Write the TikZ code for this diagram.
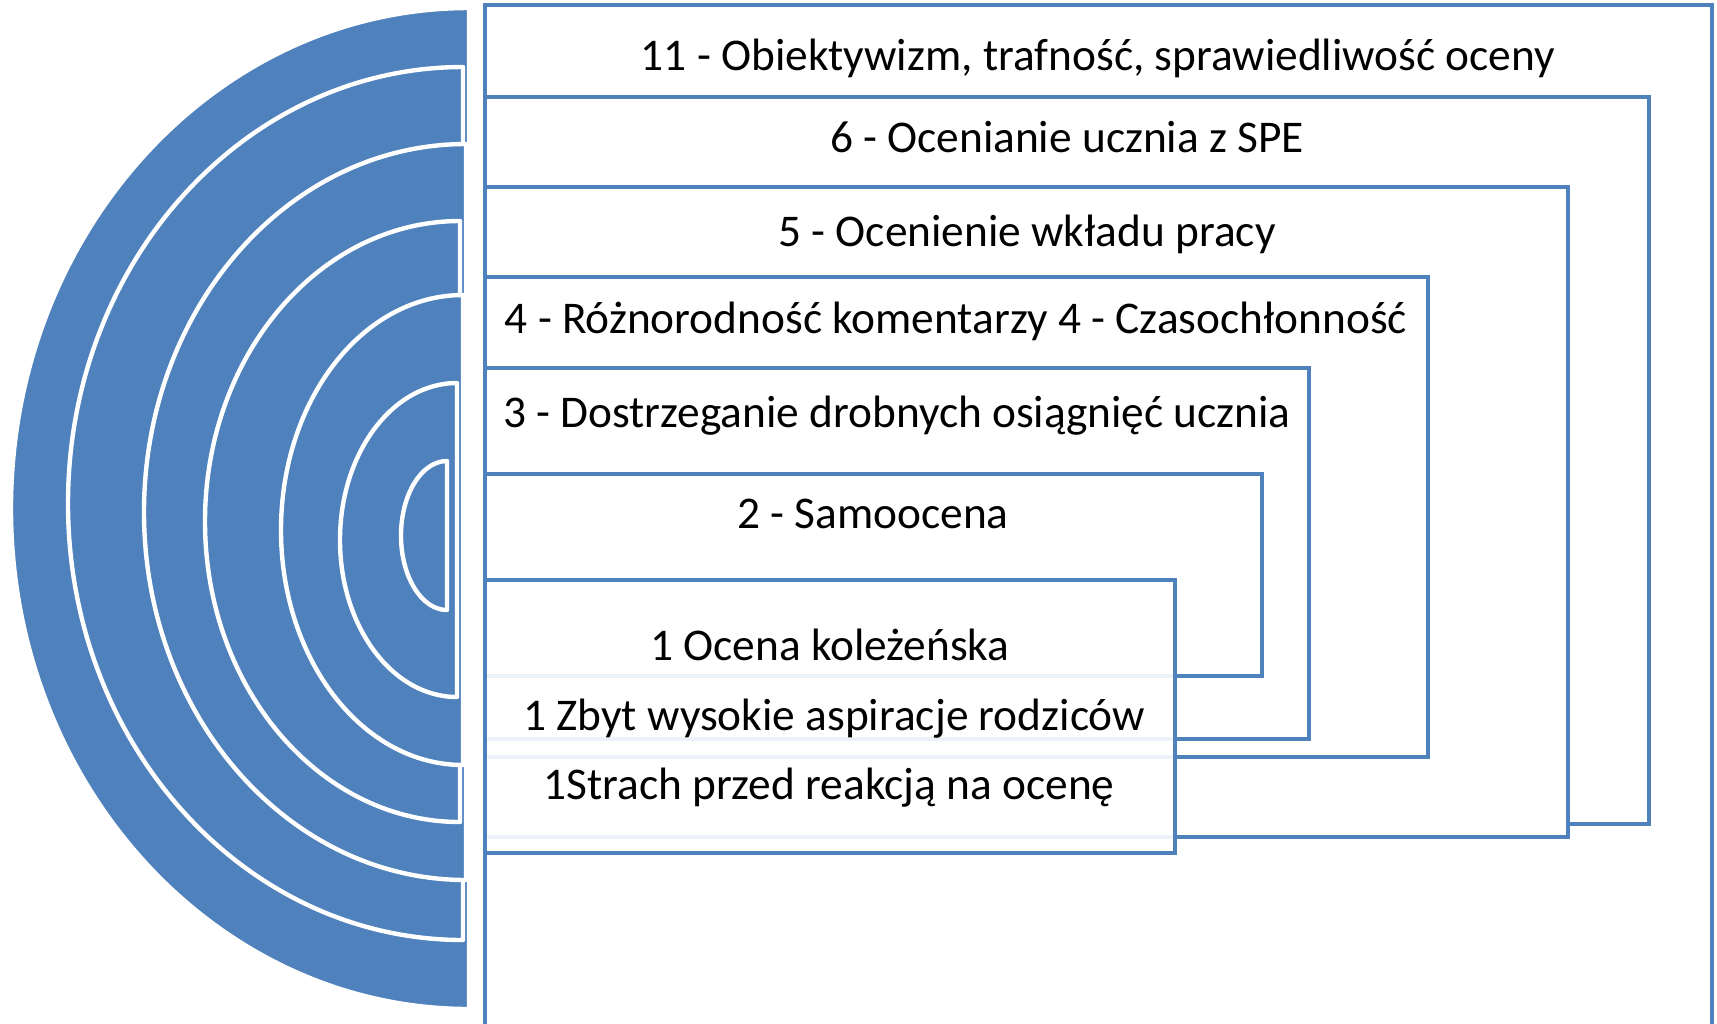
\documentclass[tikz,border=0pt]{standalone}
\usepackage{fontspec}
\setmainfont{Carlito}
\definecolor{accblue}{HTML}{4F81BD}
\tikzset{
  ring/.style={fill=accblue, draw=white, line width=1.25pt, line join=round},
  frame/.style={fill=white, draw=accblue, line width=1.4pt},
  lbl/.style={anchor=base, inner sep=0pt, font=\fontsize{12.9}{15}\selectfont, text=black}
}
\begin{document}
\begin{tikzpicture}[x=0.01cm,y=0.01cm]
\useasboundingbox (0,0) rectangle (1717,-1023);
\clip (0,0) rectangle (1717,-1023);
% nested half-ellipses (outer to inner)
\path[ring] (469,-8)   arc[start angle=90,end angle=270,x radius=458,y radius=500.5] -- cycle;
\path[ring] (463,-67)  arc[start angle=90,end angle=270,x radius=395,y radius=436.5] -- cycle;
\path[ring] (466,-144) arc[start angle=90,end angle=270,x radius=322,y radius=368] -- cycle;
\path[ring] (460,-221) arc[start angle=90,end angle=270,x radius=255,y radius=300.5] -- cycle;
\path[ring] (463,-295) arc[start angle=90,end angle=270,x radius=182,y radius=235] -- cycle;
\path[ring] (457,-383) arc[start angle=90,end angle=270,x radius=117,y radius=157] -- cycle;
\path[ring] (447,-461) arc[start angle=90,end angle=270,x radius=46,y radius=74.5] -- cycle;
% nested frames (outer to inner)
\path[frame] (485,-5)   rectangle (1712,-1100);
\path[frame] (485,-97)  rectangle (1649,-824);
\path[frame] (485,-187) rectangle (1568,-837);
\path[frame] (485,-277) rectangle (1428,-757);
\path[frame] (485,-368) rectangle (1309,-739);
\path[frame] (485,-474) rectangle (1262,-676);
\path[frame, fill opacity=0.9] (485,-580) rectangle (1175,-853);
% labels
\node[lbl] (t11) at (1098,-70)  {11 - Obiektywizm, trafność, sprawiedliwość oceny};
\node[lbl] (t6)  at (1067,-152) {6 - Ocenianie ucznia z SPE};
\node[lbl] (t5)  at (1027,-246) {5 - Ocenienie wkładu pracy};
\node[lbl] (t4)  at (956,-333)  {4 - Różnorodność komentarzy 4 - Czasochłonność};
\node[lbl] (t3)  at (897,-427)  {3 - Dostrzeganie drobnych osiągnięć ucznia};
\node[lbl] (t2)  at (873,-528)  {2 - Samoocena};
\node[lbl] (t1a) at (830,-660)  {1 Ocena koleżeńska};
\node[lbl] (t1b) at (834,-730)  {1 Zbyt wysokie aspiracje rodziców};
\node[lbl] (t1c) at (829,-799)  {1Strach przed reakcją na ocenę};
\end{tikzpicture}
\end{document}
